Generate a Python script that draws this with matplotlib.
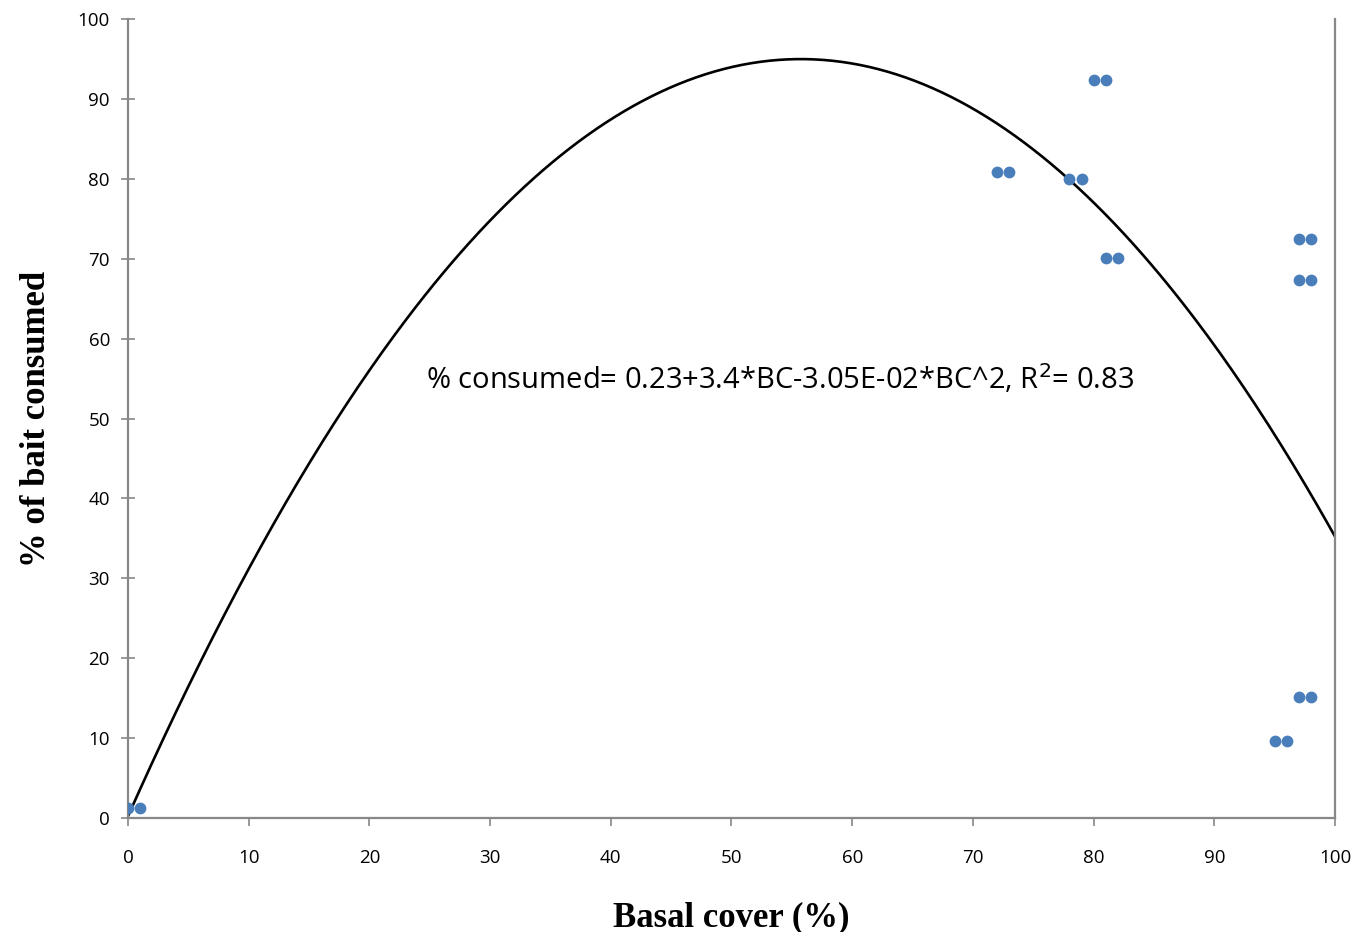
import numpy as np
import matplotlib.pyplot as plt

# observed points
basal_cover = [0, 1, 72, 73, 78, 79, 80, 81, 81, 82, 97, 98, 97, 98, 97, 98, 95, 96]
consumed = [1.2, 1.3, 80.8, 80.8, 80.0, 80.0, 92.4, 92.4, 70.1, 70.1,
            72.5, 72.5, 67.3, 67.3, 15.1, 15.1, 9.6, 9.6]

# fitted quadratic shown on the chart
coef = [0.23, 3.4, -3.05e-02]

fig = plt.figure(figsize=(13.53, 9.32), dpi=100)
ax = fig.add_axes([0.0946, 0.1223, 0.8921, 0.8573])

xs = np.linspace(0, 100, 400)
ys = coef[0] + coef[1]*xs + coef[2]*xs**2
ax.plot(xs, ys, color='black', lw=1.9, zorder=2)
ax.scatter(basal_cover, consumed, s=72, color='#4a7ebb', zorder=3, linewidths=0)

ax.text(54, 55, "% consumed= 0.23+3.4*BC-3.05E-02*BC^2, R$^2$= 0.83",
        ha='center', va='center', fontsize=21, family='Open Sans')

ax.set_xlim(0, 100)
ax.set_ylim(0, 100)
ax.set_xticks(range(0, 101, 10))
ax.set_yticks(range(0, 101, 10))
for lab in ax.get_xticklabels() + ax.get_yticklabels():
    lab.set_family('Open Sans')
    lab.set_fontsize(13.5)
ax.tick_params(axis='y', direction='inout', length=10, color='#888888', width=1.2, pad=8)
ax.tick_params(axis='x', direction='out', length=6, color='#888888', width=1.2, pad=16)

ax.spines['top'].set_visible(False)
for s in ['left', 'bottom', 'right']:
    ax.spines[s].set_color('#888888')
    ax.spines[s].set_linewidth(1.6)

ax.set_xlabel("Basal cover (%)", fontsize=25, fontweight='bold',
              family='Liberation Serif', labelpad=25)
ax.set_ylabel("% of bait consumed", fontsize=25, fontweight='bold',
              family='Liberation Serif', labelpad=18)

fig.savefig("out.png")
